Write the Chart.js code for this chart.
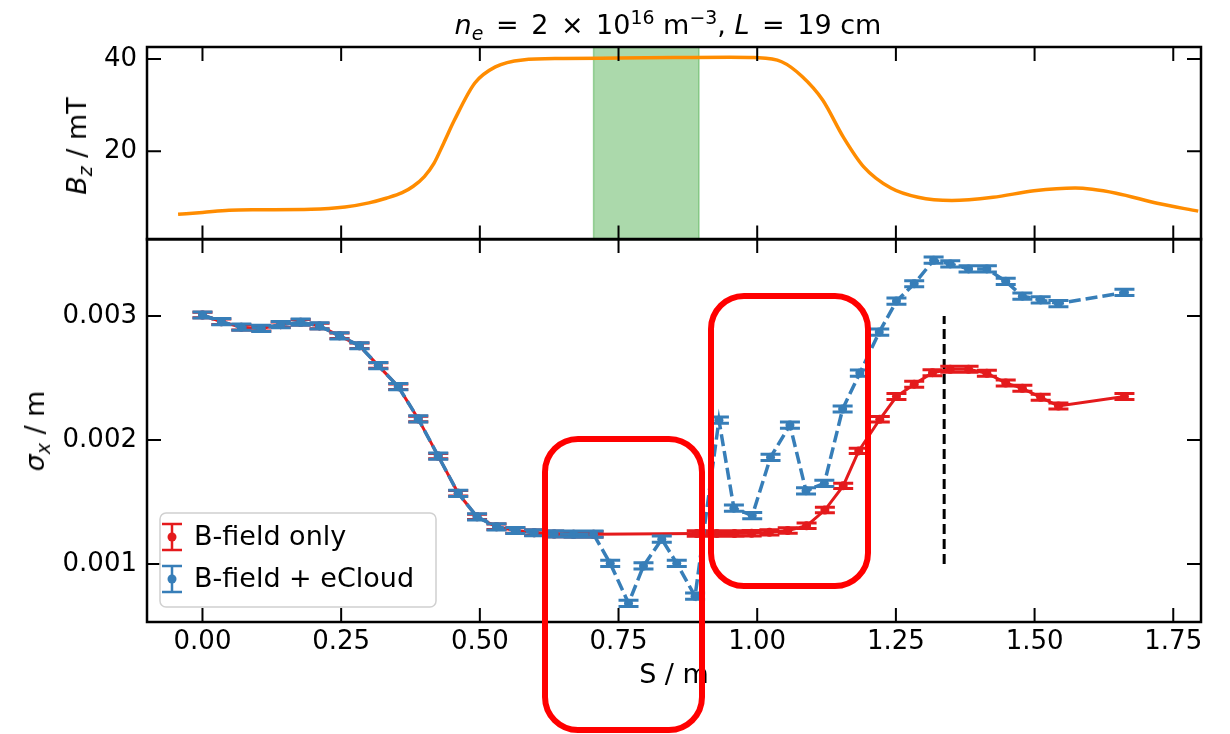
<!DOCTYPE html>
<html lang="en">
<head>
<meta charset="UTF-8">
<title>Beam size along S</title>
<script src="https://cdn.jsdelivr.net/npm/chart.js"></script>
<style>
  body { margin: 0; background: #fff; }
  #wrap { position: relative; width: 1230px; height: 734px; overflow: hidden;
          font-family: 'DejaVu Sans', sans-serif; color: #000; }
  canvas { position: absolute; left: 0; top: 0; }
  .title { position: absolute; left: 668px; top: 9px; transform: translateX(-50%);
           font-size: 27px; line-height: 32px; white-space: nowrap; }
  .title .op { margin: 0 4px; }
  .ylab { position: absolute; font-size: 27px; line-height: 32px; white-space: nowrap;
          transform: translate(-50%, -50%) rotate(-90deg); }
  sub, sup { font-size: 70%; line-height: 0; }
  .box { position: absolute; border: 6px solid #ff0000; border-radius: 36px; box-sizing: border-box; }
</style>
</head>
<body>
<div id="wrap">
  <canvas id="topChart" width="1230" height="265"></canvas>
  <canvas id="mainChart" width="1230" height="734"></canvas>
  <div class="title"><i>n</i><sub><i>e</i></sub> <span class="op">=</span> 2 <span class="op">×</span> 10<sup>16</sup> m<sup>−3</sup>, <i>L</i> <span class="op">=</span> 19 cm</div>
  <div class="ylab" style="left:77px; top:146px;"><i>B</i><sub><i>z</i></sub> / mT</div>
  <div class="ylab" style="left:35px; top:431px;"><i>σ</i><sub><i>x</i></sub> / m</div>
  <div class="box" style="left:542px; top:436px; width:163px; height:297px;"></div>
  <div class="box" style="left:708px; top:293px; width:163px; height:296px;"></div>
</div>

<script>
// ---- data ----
// top panel: solenoid field on axis
var sBz = [-0.044, 0.0, 0.048, 0.10, 0.196, 0.257, 0.30, 0.331, 0.36, 0.38, 0.40, 0.417, 0.435, 0.454,
           0.491, 0.528, 0.577, 0.65, 0.75, 0.85, 0.95, 0.994, 1.044, 1.081, 1.118, 1.155, 1.192, 1.241,
           1.29, 1.351, 1.425, 1.499, 1.573, 1.647, 1.721, 1.795];
var bz = [6.3, 6.7, 7.2, 7.3, 7.4, 7.9, 8.8, 9.8, 11.0, 12.4, 14.5, 17.3, 21.8, 26.7,
          34.8, 38.3, 39.8, 40.1, 40.2, 40.3, 40.4, 40.3, 39.4, 36.2, 31.1, 23.1, 16.6, 12.0,
          10.0, 9.3, 10.0, 11.4, 12.0, 10.9, 8.7, 7.0];
// plasma cell (shaded band), m
var cellStart = 0.705;
var cellEnd = 0.895;

// bottom panel: B-field only
var sRed = [0.000, 0.034, 0.070, 0.106, 0.141, 0.177, 0.211, 0.247, 0.283, 0.317,
            0.353, 0.389, 0.425, 0.461, 0.495, 0.530, 0.564, 0.598, 0.634, 0.669,
            0.705, 0.891, 0.927, 0.959, 0.990, 1.022, 1.055, 1.089, 1.122, 1.155,
            1.183, 1.221, 1.251, 1.283, 1.316, 1.348, 1.381, 1.414, 1.448, 1.478,
            1.511, 1.543, 1.662];
var sigmaRed = [0.003008, 0.002954, 0.002910, 0.002900, 0.002930, 0.002950, 0.002920, 0.002840, 0.002760, 0.002600,
                0.002430, 0.002170, 0.001870, 0.001570, 0.001380, 0.001300, 0.001270, 0.001252, 0.001242, 0.001240,
                0.001240, 0.001245, 0.001245, 0.001246, 0.001248, 0.001255, 0.001270, 0.001308, 0.001435, 0.001630,
                0.001912, 0.002167, 0.002350, 0.002450, 0.002543, 0.002570, 0.002570, 0.002538, 0.002460, 0.002417,
                0.002344, 0.002274, 0.002350];
var errRed = [0.000022, 0.000022, 0.000022, 0.000022, 0.000022, 0.000022, 0.000022, 0.000022, 0.000022, 0.000022,
              0.000022, 0.000022, 0.000022, 0.000022, 0.000022, 0.000022, 0.000022, 0.000022, 0.000022, 0.000022,
              0.000022, 0.000022, 0.000022, 0.000022, 0.000022, 0.000022, 0.000022, 0.000022, 0.000022, 0.000022,
              0.000022, 0.000022, 0.000024, 0.000024, 0.000024, 0.000024, 0.000024, 0.000024, 0.000024, 0.000024,
              0.000024, 0.000024, 0.000024];

// bottom panel: B-field + eCloud
var sBlue = [0.000, 0.034, 0.070, 0.106, 0.141, 0.177, 0.211, 0.247, 0.283, 0.317,
             0.353, 0.389, 0.425, 0.461, 0.495, 0.530, 0.564, 0.598, 0.634, 0.669,
             0.705, 0.735, 0.768, 0.795, 0.828, 0.855, 0.888, 0.931, 0.958, 0.991,
             1.024, 1.059, 1.088, 1.121, 1.154, 1.185, 1.220, 1.251, 1.283, 1.318,
             1.348, 1.381, 1.414, 1.448, 1.478, 1.511, 1.543, 1.662];
var sigmaBlue = [0.003008, 0.002954, 0.002910, 0.002900, 0.002930, 0.002950, 0.002920, 0.002840, 0.002760, 0.002600,
                 0.002430, 0.002170, 0.001870, 0.001570, 0.001380, 0.001300, 0.001270, 0.001252, 0.001242, 0.001240,
                 0.001240, 0.001005, 0.000683, 0.000984, 0.001200, 0.001005, 0.000740, 0.002160, 0.001450, 0.001390,
                 0.001860, 0.002120, 0.001590, 0.001650, 0.002250, 0.002540, 0.002870, 0.003120, 0.003260, 0.003450,
                 0.003420, 0.003380, 0.003380, 0.003280, 0.003160, 0.003130, 0.003100, 0.003190];
var errBlue = [0.000025, 0.000025, 0.000025, 0.000025, 0.000025, 0.000025, 0.000025, 0.000025, 0.000025, 0.000025,
               0.000025, 0.000025, 0.000025, 0.000025, 0.000025, 0.000025, 0.000025, 0.000025, 0.000025, 0.000025,
               0.000025, 0.000025, 0.000025, 0.000025, 0.000025, 0.000025, 0.000025, 0.000025, 0.000025, 0.000025,
               0.000025, 0.000025, 0.000025, 0.000025, 0.000025, 0.000025, 0.000025, 0.000025, 0.000025, 0.000025,
               0.000025, 0.000025, 0.000025, 0.000025, 0.000025, 0.000025, 0.000025, 0.000025];

// vertical marker
var markerS = 1.337;
var markerSigma = [0.001, 0.003];

// ticks
var sTicks = [0, 0.25, 0.5, 0.75, 1.0, 1.25, 1.5, 1.75];
var bzTicks = [20, 40];
var sigmaTicks = [0.001, 0.002, 0.003];

var RED = '#e41a1c';
var BLUE = '#377eb8';
var ORANGE = '#ff8c00';

Chart.defaults.font.family = "'DejaVu Sans', sans-serif";
Chart.defaults.color = '#000';
Chart.defaults.animation = false;

function points(xs, ys) {
    return xs.map(function (x, i) { return { x: x, y: ys[i] }; });
}

// inward ticks on all four sides + black box
function framePlugin(xTicks, yTicks) {
    return {
        id: 'frame',
        afterDraw: function (chart) {
            var ctx = chart.ctx, a = chart.chartArea, sx = chart.scales.x, sy = chart.scales.y;
            ctx.save();
            ctx.strokeStyle = '#000';
            ctx.lineWidth = 2;
            ctx.beginPath();
            xTicks.forEach(function (v) {
                var px = sx.getPixelForValue(v);
                ctx.moveTo(px, a.top); ctx.lineTo(px, a.top + 14);
                ctx.moveTo(px, a.bottom); ctx.lineTo(px, a.bottom - 14);
            });
            yTicks.forEach(function (v) {
                var py = sy.getPixelForValue(v);
                ctx.moveTo(a.left, py); ctx.lineTo(a.left + 14, py);
                ctx.moveTo(a.right, py); ctx.lineTo(a.right - 14, py);
            });
            ctx.stroke();
            ctx.lineWidth = 2.5;
            ctx.strokeRect(a.left, a.top, a.right - a.left, a.bottom - a.top);
            ctx.restore();
        }
    };
}

var cellBand = {
    id: 'cellBand',
    beforeDatasetsDraw: function (chart) {
        var ctx = chart.ctx, a = chart.chartArea, sx = chart.scales.x;
        var x1 = sx.getPixelForValue(cellStart), x2 = sx.getPixelForValue(cellEnd);
        ctx.save();
        ctx.fillStyle = 'rgba(44, 160, 44, 0.4)';
        ctx.fillRect(x1, a.top, x2 - x1, a.bottom - a.top);
        ctx.strokeStyle = 'rgba(44, 160, 44, 0.4)';
        ctx.lineWidth = 1.5;
        ctx.strokeRect(x1, a.top, x2 - x1, a.bottom - a.top);
        ctx.restore();
    }
};

var errorBars = {
    id: 'errorBars',
    afterDatasetDraw: function (chart, args) {
        var ds = chart.data.datasets[args.index];
        if (!ds.err) return;
        var ctx = chart.ctx, sy = chart.scales.y;
        ctx.save();
        ctx.strokeStyle = ds.borderColor;
        ctx.lineWidth = 3;
        ctx.setLineDash([]);
        ctx.beginPath();
        args.meta.data.forEach(function (pt, i) {
            var v = ds.data[i].y, e = ds.err[i];
            var y1 = sy.getPixelForValue(v - e), y2 = sy.getPixelForValue(v + e);
            ctx.moveTo(pt.x, y1); ctx.lineTo(pt.x, y2);
            ctx.moveTo(pt.x - 10, y1); ctx.lineTo(pt.x + 10, y1);
            ctx.moveTo(pt.x - 10, y2); ctx.lineTo(pt.x + 10, y2);
        });
        ctx.stroke();
        ctx.restore();
    }
};

// matplotlib-style legend with errorbar handles
var errLegend = {
    id: 'errLegend',
    afterDraw: function (chart) {
        var ctx = chart.ctx, a = chart.chartArea;
        var x0 = a.left + 13, y0 = a.bottom - 109, w = 276, h = 94;
        ctx.save();
        ctx.fillStyle = 'rgba(255,255,255,0.8)';
        ctx.strokeStyle = '#d0d0d0';
        ctx.lineWidth = 1.5;
        ctx.beginPath();
        ctx.roundRect(x0, y0, w, h, 6);
        ctx.fill();
        ctx.stroke();
        var entries = chart.data.datasets.filter(function (d) { return d.err; });
        entries.forEach(function (d, i) {
            var cy = y0 + 24 + i * 42, cx = x0 + 12;
            ctx.strokeStyle = d.borderColor;
            ctx.fillStyle = d.borderColor;
            ctx.lineWidth = 2.5;
            ctx.beginPath();
            ctx.moveTo(cx, cy - 13); ctx.lineTo(cx, cy + 13);
            ctx.moveTo(cx - 10, cy - 13); ctx.lineTo(cx + 10, cy - 13);
            ctx.moveTo(cx - 10, cy + 13); ctx.lineTo(cx + 10, cy + 13);
            ctx.stroke();
            ctx.beginPath();
            ctx.arc(cx, cy, 4.5, 0, Math.PI * 2);
            ctx.fill();
            ctx.fillStyle = '#000';
            ctx.font = "27px 'DejaVu Sans'";
            ctx.textBaseline = 'middle';
            ctx.fillText(d.label, x0 + 34, cy + 1);
        });
        ctx.restore();
    }
};

// ---- top panel ----
new Chart(document.getElementById('topChart'), {
    type: 'line',
    data: {
        datasets: [{
            label: 'Bz',
            data: points(sBz, bz),
            borderColor: ORANGE,
            borderWidth: 3.5,
            pointRadius: 0,
            cubicInterpolationMode: 'monotone',
            fill: false
        }]
    },
    options: {
        responsive: false,
        layout: { padding: { top: 47, right: 29, bottom: 11, left: 0 } },
        plugins: { legend: { display: false }, tooltip: { enabled: false } },
        scales: {
            x: { type: 'linear', min: -0.1, max: 1.8, display: false },
            y: {
                type: 'linear', min: 0.87, max: 42.6,
                grid: { display: false, drawTicks: false },
                border: { display: false },
                afterBuildTicks: function (scale) { scale.ticks = bzTicks.map(function (v) { return { value: v }; }); },
                afterFit: function (scale) { scale.width = 147; },
                ticks: { autoSkip: false, padding: 10, font: { size: 26 }, callback: function (v) { return String(v); } }
            }
        }
    },
    plugins: [cellBand, framePlugin(sTicks, bzTicks)]
});

// ---- bottom panel ----
new Chart(document.getElementById('mainChart'), {
    type: 'line',
    data: {
        datasets: [{
            label: 'B-field only',
            data: points(sRed, sigmaRed),
            err: errRed,
            borderColor: RED,
            backgroundColor: RED,
            borderWidth: 3,
            pointRadius: 4.5,
            pointBorderWidth: 0,
            order: 1
        }, {
            label: 'B-field + eCloud',
            data: points(sBlue, sigmaBlue),
            err: errBlue,
            borderColor: BLUE,
            backgroundColor: BLUE,
            borderWidth: 3.5,
            borderDash: [12, 5],
            pointRadius: 4.5,
            pointBorderWidth: 0,
            order: 0
        }, {
            label: 'marker',
            data: points([markerS, markerS], markerSigma),
            borderColor: '#000',
            borderWidth: 3,
            borderDash: [10, 5],
            pointRadius: 0,
            order: 2
        }]
    },
    options: {
        responsive: false,
        layout: { padding: { top: 239, right: 29, bottom: 0, left: 0 } },
        plugins: { legend: { display: false }, tooltip: { enabled: false } },
        scales: {
            x: {
                type: 'linear', min: -0.1, max: 1.8,
                grid: { display: false, drawTicks: false },
                border: { display: false },
                afterBuildTicks: function (scale) { scale.ticks = sTicks.map(function (v) { return { value: v }; }); },
                afterFit: function (scale) { scale.height = 112; },
                ticks: { autoSkip: false, maxRotation: 0, padding: 5, font: { size: 26 },
                         callback: function (v) { return Number(v).toFixed(2); } },
                title: { display: true, text: 'S / m', font: { size: 27 }, padding: { top: 0, bottom: 42 } }
            },
            y: {
                type: 'linear', min: 0.000532, max: 0.003621,
                grid: { display: false, drawTicks: false },
                border: { display: false },
                afterBuildTicks: function (scale) { scale.ticks = sigmaTicks.map(function (v) { return { value: v }; }); },
                afterFit: function (scale) { scale.width = 147; },
                ticks: { autoSkip: false, padding: 10, font: { size: 26 },
                         callback: function (v) { return Number(v).toFixed(3); } }
            }
        }
    },
    plugins: [errorBars, framePlugin(sTicks, sigmaTicks), errLegend]
});
</script>
</body>
</html>
